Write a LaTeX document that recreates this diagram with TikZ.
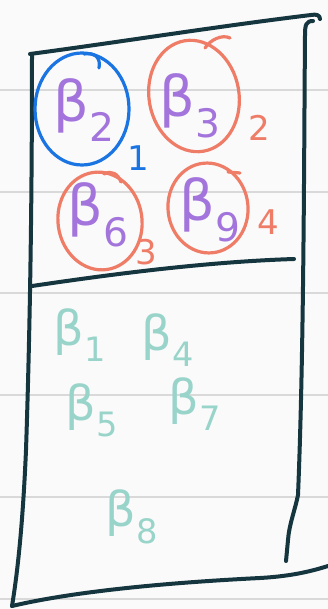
\documentclass[tikz,border=0pt]{standalone}
\usepackage{fontspec}
\setmainfont{DejaVu Sans}
\definecolor{ink}{HTML}{15363F}
\definecolor{ringblue}{HTML}{1A74E2}
\definecolor{ringorange}{HTML}{EE7C66}
\definecolor{betapurple}{HTML}{A274DC}
\definecolor{betateal}{HTML}{98D4C9}
\definecolor{ruling}{HTML}{D9D9D9}
\begin{document}
\begin{tikzpicture}[x=1pt,y=-1pt,
		frame/.style={ink,line width=4pt,line cap=round,line join=round},
		bluering/.style={ringblue,line width=3.2pt,line cap=round},
		orangering/.style={ringorange,line width=3.2pt,line cap=round},
		inbeta/.style={betapurple,font=\fontsize{56}{62}\selectfont,inner sep=0pt},
		outbeta/.style={betateal,font=\fontsize{48}{54}\selectfont,inner sep=0pt},
		count/.style={font=\fontsize{34}{40}\selectfont,inner sep=0pt}]
		\fill[white!98!black] (0,0) rectangle (328,609);
		\useasboundingbox (0,0) rectangle (328,609);
		\foreach \k in {90,192,293,395,497,599}{
			\draw[ruling,line width=1.4pt] (0,\k) to (328,\k);}
		
		% box
		\draw[frame] (30,54) .. controls (120,42) and (220,26) .. (311,15) .. controls (316,14) and (320,15) .. (320,19);
		\draw[frame] (313,21) .. controls (306,21) and (305,25) .. (305,35) .. controls (304,150) and (304,350) .. (298,495) .. controls (295,510) and (289,525) .. (288,540) -- (286,561);
		\draw[frame] (32,55) .. controls (32,200) and (30,330) .. (26,450) .. controls (23,520) and (18,570) .. (12,606);
		\draw[frame] (12,606) .. controls (80,590) and (180,582) .. (260,578) .. controls (295,576) and (315,570) .. (328,566);
		\draw[frame] (32,286) .. controls (100,276) and (200,262) .. (294,259);
		
		% upper part
		\node[inbeta] (b2) at (84,110) {β\textsubscript{2}};
		\node[inbeta] (b3) at (190,106) {β\textsubscript{3}};
		\node[inbeta] (b6) at (98,215) {β\textsubscript{6}};
		\node[inbeta] (b9) at (210,210) {β\textsubscript{9}};
		\draw[bluering] (82,109) ellipse (47 and 56);
		\draw[bluering] (84,54) .. controls (95,52) and (101,58) .. (99,68);
		\draw[orangering,rotate around={10:(194,96)}] (194,96) ellipse (45 and 56);
		\draw[orangering] (205,48) .. controls (210,40) and (222,34) .. (230,38);
		\draw[orangering,rotate around={8:(100,221)}] (100,221) ellipse (42 and 49);
		\draw[orangering] (104,174) .. controls (112,170) and (118,174) .. (121,182);
		\draw[orangering,rotate around={6:(208,208)}] (208,208) ellipse (40 and 45);
		\draw[orangering] (228,172) -- (240,173);
		\node[count,ringblue] (n1) at (138,158) {1};
		\node[count,ringorange] (n2) at (259,128) {2};
		\node[count,ringorange] (n3) at (146,252) {3};
		\node[count,ringorange] (n4) at (268,222) {4};
		
		% lower part
		\node[outbeta] (b1) at (80,335) {β\textsubscript{1}};
		\node[outbeta] (b4) at (168,340) {β\textsubscript{4}};
		\node[outbeta] (b5) at (92,410) {β\textsubscript{5}};
		\node[outbeta] (b7) at (195,404) {β\textsubscript{7}};
		\node[outbeta] (b8) at (132,517) {β\textsubscript{8}};
		
	\end{tikzpicture}
\end{document}
